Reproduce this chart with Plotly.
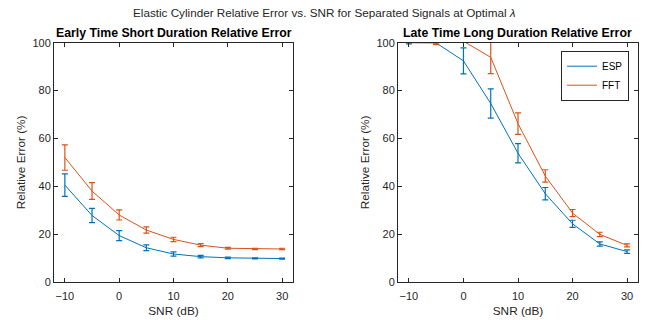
import plotly.graph_objects as go

snr = [-10, -5, 0, 5, 10, 15, 20, 25, 30]

early_esp = [40.5, 27.8, 19.4, 14.3, 11.7, 10.6, 10.1, 9.9, 9.8]
early_esp_err = [4.7, 3.0, 2.1, 1.2, 0.9, 0.5, 0.3, 0.2, 0.2]
early_fft = [52.0, 38.0, 28.0, 21.7, 17.8, 15.4, 14.1, 13.8, 13.8]
early_fft_err = [5.3, 3.5, 2.1, 1.3, 0.9, 0.6, 0.4, 0.3, 0.3]

late_esp = [100.0, 99.9, 92.4, 74.6, 53.8, 36.9, 24.3, 15.9, 12.7]
late_esp_err = [0.5, 0.5, 5.4, 6.1, 4.0, 2.6, 1.5, 0.9, 0.7]
late_fft = [100.3, 100.4, 100.6, 93.9, 66.2, 44.3, 28.8, 19.9, 15.3]
late_fft_err = [0.4, 1.2, 0.5, 6.8, 4.5, 2.6, 1.5, 0.9, 0.6]

x_ticks = [-10, 0, 10, 20, 30]
y_ticks = [0, 20, 40, 60, 80, 100]

ESP_COLOR = "#0072BD"
FFT_COLOR = "#D95319"
FONT = "Liberation Sans, Arial, sans-serif"
TICK_COLOR = "#262626"

W, H = 647, 320

fig = go.Figure()

def add(x, y, err, color, name, xa, ya, show):
    fig.add_trace(go.Scatter(
        x=x, y=y, mode="lines", name=name, showlegend=show,
        line=dict(color=color, width=1),
        error_y=dict(type="data", array=err, color=color, thickness=1.2, width=3),
        xaxis=xa, yaxis=ya,
    ))

add(snr, early_esp, early_esp_err, ESP_COLOR, "ESP", "x", "y", False)
add(snr, early_fft, early_fft_err, FFT_COLOR, "FFT", "x", "y", False)
add(snr, late_esp, late_esp_err, ESP_COLOR, "ESP", "x2", "y2", True)
add(snr, late_fft, late_fft_err, FFT_COLOR, "FFT", "x2", "y2", True)

axis_common = dict(
    showline=True, linecolor=TICK_COLOR, linewidth=1, mirror="ticks",
    ticks="inside", ticklen=4, tickcolor=TICK_COLOR, showgrid=False, zeroline=False,
    tickfont=dict(family=FONT, size=11, color=TICK_COLOR), automargin=False,
)
title_font = dict(family=FONT, size=11.8, color=TICK_COLOR)

xdom1 = [54 / W, 293 / W]
xdom2 = [398 / W, 638 / W]
ydom = [(H - 282) / H, (H - 42.7) / H]

fig.update_layout(
    width=W, height=H,
    margin=dict(l=0, r=0, t=0, b=0, autoexpand=False),
    paper_bgcolor="white", plot_bgcolor="white",
    font=dict(family=FONT, color=TICK_COLOR),
    xaxis=dict(domain=xdom1, range=[-12, 32], tickvals=x_ticks, ticklabelstandoff=4,
               title=dict(text="SNR (dB)", font=title_font, standoff=5),
               anchor="y", **axis_common),
    yaxis=dict(domain=ydom, range=[0, 100], tickvals=y_ticks,
               title=dict(text="Relative Error (%)", font=title_font, standoff=4),
               anchor="x", **axis_common),
    xaxis2=dict(domain=xdom2, range=[-12, 32], tickvals=x_ticks, ticklabelstandoff=4,
                title=dict(text="SNR (dB)", font=title_font, standoff=5),
                anchor="y2", **axis_common),
    yaxis2=dict(domain=ydom, range=[0, 100], tickvals=y_ticks,
                title=dict(text="Relative Error (%)", font=title_font, standoff=4),
                anchor="x2", **axis_common),
    legend=dict(x=629 / W, y=1 - 50.7 / H, xanchor="right", yanchor="top",
                bgcolor="white", bordercolor="#262626", borderwidth=1,
                font=dict(family=FONT, size=10, color="black"),
                tracegroupgap=0, itemwidth=30),
    annotations=[
        dict(text="Elastic Cylinder Relative Error vs. SNR for Separated Signals at Optimal <i>λ</i>",
             x=0.5 + 0.5 / W, y=1 - 12.5 / H, xref="paper", yref="paper", showarrow=False,
             xanchor="center", yanchor="middle",
             font=dict(family=FONT, size=11.7, color=TICK_COLOR)),
        dict(text="<b>Early Time Short Duration Relative Error</b>",
             x=sum(xdom1) / 2, y=1 - 33 / H, xref="paper", yref="paper", showarrow=False,
             xanchor="center", yanchor="middle", font=dict(family=FONT, size=12.3, color="black")),
        dict(text="<b>Late Time Long Duration Relative Error</b>",
             x=sum(xdom2) / 2, y=1 - 33 / H, xref="paper", yref="paper", showarrow=False,
             xanchor="center", yanchor="middle", font=dict(family=FONT, size=12.3, color="black")),
    ],
)

fig.write_html(
    "out.html",
    config={"displayModeBar": False},
    post_script="document.body.style.margin='0';document.body.style.overflow='hidden';",
)
